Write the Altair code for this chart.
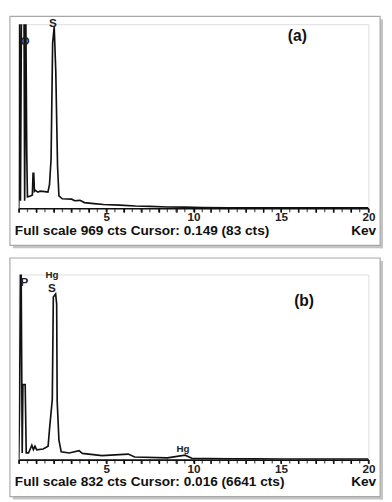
import altair as alt
import pandas as pd

# ---------------- data ----------------
# Panel (a) spectrum
a_kev = [0.00, 0.02, 0.04, 0.10, 0.16, 0.30, 0.34, 0.40, 0.46, 0.50, 0.67, 0.78, 0.82, 0.86, 0.90,
         0.95, 1.10, 1.22, 1.50, 1.67, 1.76, 1.85, 1.94, 2.03, 2.12, 2.22, 2.30, 2.49, 3.03, 3.20,
         3.50, 3.76, 4.30, 4.85, 5.76, 6.67, 7.50, 8.50, 9.50, 10.5, 12.0, 15.0, 20.0]
a_cts = [0, 290, 1100, 40, 1100, 1100, 40, 1100, 290, 60, 65, 70, 184, 184, 90,
         95, 85, 90, 88, 85, 124, 258, 870, 954, 720, 224, 65, 50, 48, 40,
         42, 30, 25, 20, 17, 12, 10, 7, 6, 4, 3, 2, 2]

# Panel (b) spectrum
b_kev = [0.00, 0.05, 0.10, 0.14, 0.20, 0.24, 0.37, 0.43, 0.56, 0.75, 0.84, 0.93, 1.03, 1.40,
         1.68, 1.77, 1.92, 1.98, 2.11, 2.17, 2.20, 2.30, 2.43, 2.89, 3.45, 3.64, 4.76, 6.26,
         6.63, 8.50, 9.52, 9.90, 12.0, 15.0, 20.0]
b_cts = [0, 250, 840, 840, 30, 337, 337, 30, 30, 65, 45, 60, 44, 48,
         60, 145, 270, 731, 745, 700, 263, 88, 35, 30, 40, 28, 18, 25,
         12, 8, 20, 6, 4, 3, 3]

# element labels
a_lbl = ["O", "S"]
a_lbl_kev = [0.36, 1.96]
a_lbl_cts = [880, 975]

b_lbl = ["P", "Hg", "S", "Hg"]
b_lbl_kev = [0.32, 1.90, 1.90, 9.40]
b_lbl_cts = [800, 830, 770, 48]
b_lbl_size = [12, 10, 12, 10]

full_scale = [969, 832]
footer = ["Full scale 969 cts Cursor: 0.149 (83 cts)",
          "Full scale 832 cts Cursor: 0.016 (6641 cts)"]
panel_tags = ["(a)", "(b)"]
unit = "Kev"

tick_values = [i * 0.5 for i in range(41)]
tick_labels = [5, 10, 15, 20]

W = 359
FONT = "Liberation Sans"

label_test = "(" + " || ".join("datum.value == %s" % v for v in tick_labels) + ") ? datum.label : ''"


def panel(kev, cts, lbl, lbl_kev, lbl_cts, lbl_size, fs, foot, tag, H, top_off, tag_pos):
    one = pd.DataFrame({"a": [0]})
    xsc = alt.Scale(domain=[0, 20], nice=False, zero=False)
    ysc = alt.Scale(domain=[0, fs], nice=False)
    xaxis = alt.Axis(values=tick_values, grid=False, domainColor="#111111", format="d",
                     domainWidth=1.6, ticks=True, tickColor="#000000", tickSize=4, tickWidth=1.4,
                     tickOpacity=1, labelExpr=label_test,
                     labelOverlap=False, labelFont=FONT, labelFontSize=12,
                     labelFontWeight="bold", labelColor="#222222", labelPadding=0,
                     labelFlush=False, title=None)

    shadow_r = alt.Chart(one).mark_rect(color="#c4c4c4").encode(
        x=alt.value(W + 12), x2=alt.value(W + 15),
        y=alt.value(-top_off + 3), y2=alt.value(H + 41))
    shadow_b = alt.Chart(one).mark_rect(color="#c4c4c4").encode(
        x=alt.value(-6), x2=alt.value(W + 15),
        y=alt.value(H + 38), y2=alt.value(H + 41))
    frame = alt.Chart(one).mark_rect(fillOpacity=0, stroke="#a8a8a8", strokeWidth=1.2).encode(
        x=alt.value(-9), x2=alt.value(W + 12),
        y=alt.value(-top_off), y2=alt.value(H + 38))

    tdf_ticks = pd.DataFrame({"kev": tick_values})
    ticks = alt.Chart(tdf_ticks).mark_tick(color="#111111", thickness=1.3, size=4).encode(
        x=alt.X("kev:Q", scale=xsc, axis=xaxis), y=alt.value(H + 2))

    spec = pd.DataFrame({"kev": kev, "cts": cts})
    line = alt.Chart(spec).mark_line(color="#111111", strokeWidth=1.7, clip=True).encode(
        x=alt.X("kev:Q", scale=xsc, axis=xaxis),
        y=alt.Y("cts:Q", scale=ysc, axis=None),
        order="kev:Q")

    ldf = pd.DataFrame({"t": lbl, "kev": lbl_kev, "cts": lbl_cts, "s": lbl_size})
    labels = alt.Chart(ldf).mark_text(font=FONT, fontWeight="bold", color="#222222",
                                      align="center", baseline="middle").encode(
        x=alt.X("kev:Q", scale=xsc, axis=xaxis), y=alt.Y("cts:Q", scale=ysc, axis=None),
        text="t:N", size=alt.Size("s:Q", scale=None, legend=None))

    fdf = pd.DataFrame({"t": [foot]})
    foot_t = alt.Chart(fdf).mark_text(font=FONT, fontWeight="bold", fontSize=14, color="#111111",
                                      align="left", baseline="middle").encode(
        x=alt.value(-4), y=alt.value(H + 23), text="t:N")
    udf = pd.DataFrame({"t": [unit]})
    unit_t = alt.Chart(udf).mark_text(font=FONT, fontWeight="bold", fontSize=14, color="#111111",
                                      align="right", baseline="middle").encode(
        x=alt.value(W + 8), y=alt.value(H + 23), text="t:N")
    tdf = pd.DataFrame({"t": [tag]})
    tag_t = alt.Chart(tdf).mark_text(font=FONT, fontWeight="bold", fontSize=16, color="#111111",
                                     align="center", baseline="middle").encode(
        x=alt.value(tag_pos[0]), y=alt.value(tag_pos[1]), text="t:N")

    return alt.layer(shadow_r, shadow_b, frame, ticks, line, labels, foot_t, unit_t,
                     tag_t).properties(width=W, height=H)


pa = panel(a_kev, a_cts, a_lbl, a_lbl_kev, a_lbl_cts, [12, 12], full_scale[0], footer[0],
           panel_tags[0], 189, 8, (286, 12))
pb = panel(b_kev, b_cts, b_lbl, b_lbl_kev, b_lbl_cts, b_lbl_size, full_scale[1], footer[1],
           panel_tags[1], 190, 17, (293, 27))

chart = alt.vconcat(pa, pb, spacing=7).properties(padding=0).configure_view(
    stroke=None).configure(background="white")

chart.save("out.html", embed_options={"renderer": "svg", "actions": False})
